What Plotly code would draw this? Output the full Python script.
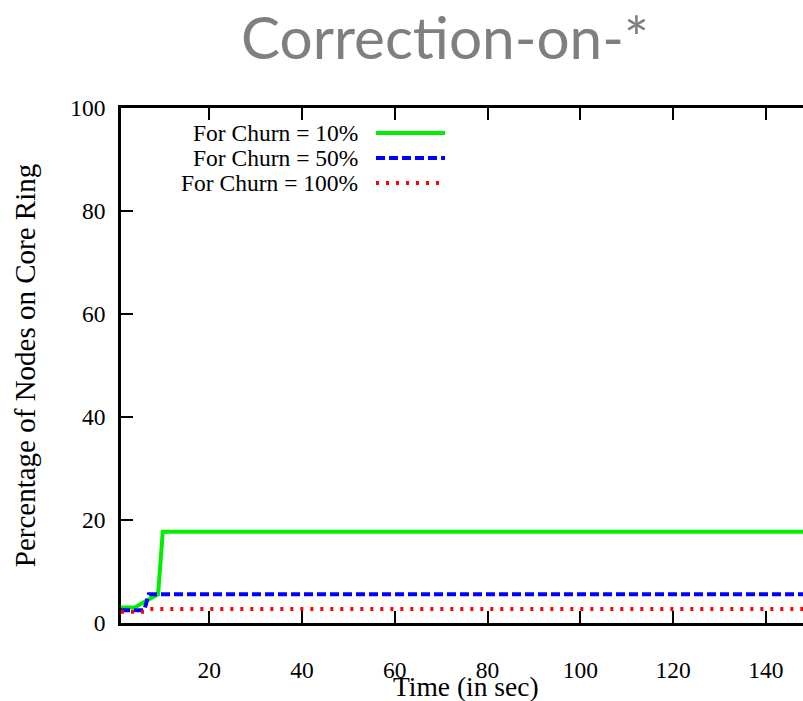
import plotly.graph_objects as go

# Data (time in sec, percentage of nodes on core ring)
t_10 = [1, 2, 3, 4, 6, 9, 10, 150]
p_10 = [3.0, 3.0, 3.0, 3.0, 4.1, 5.6, 17.7, 17.7]
t_50 = [1, 2, 3, 4, 5, 6, 7, 150]
p_50 = [2.5, 2.5, 2.5, 2.5, 2.5, 2.5, 5.6, 5.6]
t_100 = [1, 2, 3, 4, 5, 6, 7, 150]
p_100 = [2.2, 2.2, 2.2, 2.2, 2.2, 2.2, 2.7, 2.7]
x_ticks = [20, 40, 60, 80, 100, 120, 140]
y_ticks = [0, 20, 40, 60, 80, 100]

names = ["For Churn = 10%", "For Churn = 50%", "For Churn = 100%"]
colors = ["#00ee00", "#0000ff", "#ff0000"]
dashes = ["solid", "9px,4px", "3px,7px"]
xs = [t_10, t_50, t_100]
ys = [p_10, p_50, p_100]
xaxes_used = ["x", "x", "x2"]  # red series drawn on the label-carrying twin axis

W, H = 803, 701
L, R, T, B = 121, 0, 108, 78
pw, ph = W - L - R, H - T - B

def px(x):
    return (x - L) / pw

def py(y):
    return (H - B - y) / ph

fig = go.Figure()
for x, y, c, d, n, xa in zip(xs, ys, colors, dashes, names, xaxes_used):
    fig.add_trace(go.Scatter(x=x, y=y, mode="lines", name=n, xaxis=xa, yaxis="y",
                             line=dict(color=c, width=4, dash=d),
                             showlegend=False))

serif = "Liberation Serif, Times New Roman, serif"
tick_font = dict(family=serif, size=23.5, color="black")
axis_common = dict(showline=True, linecolor="black", linewidth=2.5,
                   ticks="inside", ticklen=12, tickwidth=2, tickcolor="black",
                   showgrid=False, zeroline=False, tickfont=tick_font)

x_range = [1, 148]
fig.update_layout(
    xaxis=dict(range=x_range, tickvals=x_ticks, mirror="ticks",
               showticklabels=False, **axis_common),
    # twin x axis (same range) that carries the tick labels a little below the axis
    xaxis2=dict(range=x_range, tickvals=x_ticks, overlaying="x", side="bottom",
                anchor="y", ticks="outside", ticklen=26,
                tickcolor="rgba(0,0,0,0)", showline=False, showgrid=False,
                zeroline=False, tickfont=tick_font),
    yaxis=dict(range=[0, 100], tickvals=y_ticks, ticklabelstandoff=8,
               title=dict(text="Percentage of Nodes on Core Ring",
                          font=dict(family=serif, size=29, color="black"), standoff=27),
               **axis_common),
)

# x-axis title
fig.add_annotation(x=px(466), y=py(686), xref="paper", yref="paper",
                   text="Time (in sec)", showarrow=False,
                   xanchor="center", yanchor="middle", borderpad=0,
                   font=dict(family=serif, size=27.5, color="black"))

# Manual gnuplot-style legend: text, then line sample on the right
rows_y = [133, 158, 183]
for n, c, d, ry in zip(names, colors, dashes, rows_y):
    fig.add_annotation(x=px(360), y=py(ry), xref="paper", yref="paper",
                       text=n, showarrow=False, xanchor="right", yanchor="middle",
                       font=dict(family=serif, size=23.5, color="black"))
    fig.add_shape(type="line", xref="paper", yref="paper",
                  x0=px(376), x1=px(445), y0=py(ry), y1=py(ry),
                  line=dict(color=c, width=4, dash=d))

fig.add_annotation(x=px(445), y=py(36), xref="paper", yref="paper",
                   text="Correction-on-*", showarrow=False,
                   xanchor="center", yanchor="middle",
                   font=dict(family="Lato, Open Sans, sans-serif", size=58.5, color="#7f7f7f"))

fig.update_layout(width=W, height=H, margin=dict(l=L, r=R, t=T, b=B),
                  plot_bgcolor="white", paper_bgcolor="white")

fig.write_html("out.html")
